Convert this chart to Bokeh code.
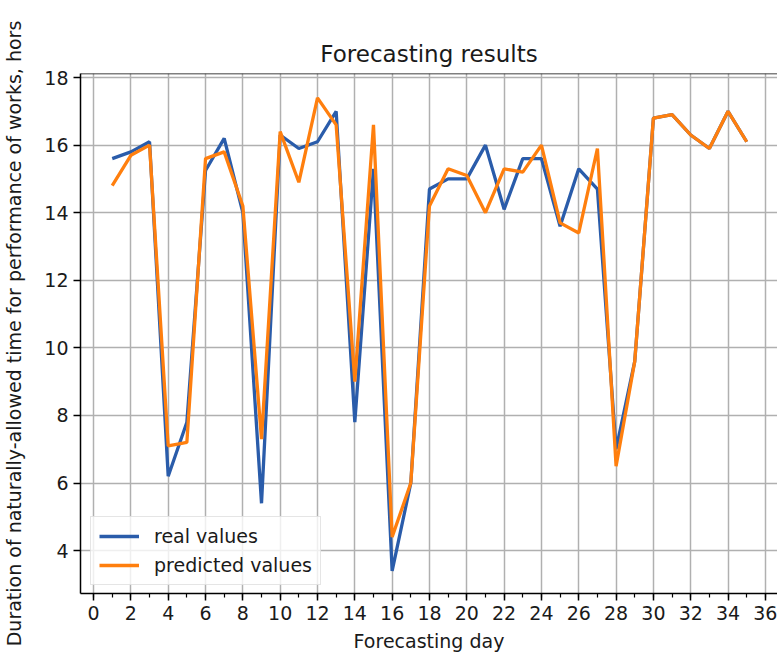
from bokeh.plotting import figure
from bokeh.models import (Range1d, SingleIntervalTicker, Legend, LegendItem, Span)
from bokeh.embed import file_html
from bokeh.resources import INLINE

# ---- data ----
days = list(range(1, 36))
real_values = [15.6, 15.8, 16.1, 6.2, 7.8, 15.25, 16.2, 14.0, 5.4, 16.3,
               15.9, 16.1, 17.0, 7.8, 15.3, 3.4, 6.0, 14.7, 15.0, 15.0,
               16.0, 14.1, 15.6, 15.6, 13.6, 15.3, 14.7, 7.0, 9.6, 16.8,
               16.9, 16.3, 15.9, 17.0, 16.1]
predicted_values = [14.8, 15.7, 16.0, 7.1, 7.2, 15.6, 15.8, 14.2, 7.3, 16.4,
                    14.9, 17.4, 16.6, 9.0, 16.6, 4.4, 6.0, 14.2, 15.3, 15.1,
                    14.0, 15.3, 15.2, 16.0, 13.7, 13.4, 15.9, 6.5, 9.6, 16.8,
                    16.9, 16.3, 15.9, 17.0, 16.1]

title_text = "Forecasting results"
x_label = "Forecasting day"
y_label = "Duration of naturally-allowed time for performance of works, hors"
legend_labels = ["real values", "predicted values"]

x_start, x_end = -0.7, 36.65
y_start, y_end = 2.73, 18.12

FONT = "DejaVu Sans"
BLUE = "#2a5caa"
ORANGE = "#ff7f0e"

p = figure(width=777, height=654, output_backend="svg", toolbar_location=None,
           x_range=Range1d(x_start, x_end), y_range=Range1d(y_start, y_end),
           min_border_left=80, min_border_right=0, min_border_top=73,
           min_border_bottom=61)

p.title.text = title_text
p.title.align = "center"
p.title.text_font = FONT
p.title.text_font_size = "23px"
p.title.text_font_style = "normal"
p.title.text_color = "#1a1a1a"
p.title.standoff = 13

p.outline_line_color = None
p.background_fill_color = "white"
p.border_fill_color = "white"

# top spine
p.add_layout(Span(location=y_end, dimension="width", line_color="black", line_width=1.5))

for ax in (p.xaxis[0], p.yaxis[0]):
    ax.axis_line_color = "black"
    ax.axis_line_width = 1.5
    ax.major_tick_line_color = "black"
    ax.major_tick_line_width = 1.5
    ax.major_tick_out = 7
    ax.major_tick_in = 0
    ax.minor_tick_line_color = "black"
    ax.minor_tick_line_width = 1.2
    ax.minor_tick_out = 4
    ax.minor_tick_in = 0
    ax.major_label_text_font = FONT
    ax.major_label_text_font_size = "19px"
    ax.major_label_text_color = "#1a1a1a"
    ax.axis_label_text_font = FONT
    ax.axis_label_text_font_size = "19px"
    ax.axis_label_text_font_style = "normal"
    ax.axis_label_text_color = "#1a1a1a"
    ax.major_label_standoff = 5

p.xaxis[0].ticker = SingleIntervalTicker(interval=2, num_minor_ticks=2)
p.yaxis[0].ticker = SingleIntervalTicker(interval=2, num_minor_ticks=0)
p.yaxis[0].minor_tick_out = 0
p.xaxis[0].axis_label = x_label
p.yaxis[0].axis_label = y_label
p.xaxis[0].axis_label_standoff = 7
p.yaxis[0].axis_label_standoff = 16

p.grid.grid_line_color = "#b0b0b0"
p.grid.grid_line_width = 1.5

r1 = p.line(days, real_values, line_color=BLUE, line_width=3.3)
r2 = p.line(days, predicted_values, line_color=ORANGE, line_width=3.3)

legend = Legend(items=[LegendItem(label=legend_labels[0], renderers=[r1]),
                       LegendItem(label=legend_labels[1], renderers=[r2])],
                location=(10, 8), margin=0, padding=8, spacing=7,
                glyph_width=40, glyph_height=20, label_height=20,
                label_standoff=15, label_text_font=FONT,
                label_text_font_size="19px", label_text_color="#1a1a1a",
                border_line_color="#cccccc", border_line_width=1.2,
                background_fill_color="white", background_fill_alpha=0.8)
p.add_layout(legend, "center")

open("out.html", "w").write(file_html(p, INLINE))
